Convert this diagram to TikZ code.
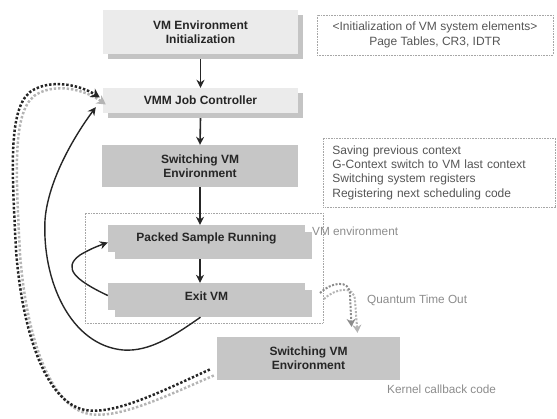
\documentclass[tikz,border=0pt]{standalone}
\usepackage{fontspec}
\setmainfont{Liberation Sans}
\usetikzlibrary{shadows,arrows.meta,calc}
\definecolor{lightbox}{HTML}{EBEBEB}
\definecolor{lightshadow}{HTML}{C4C4C4}
\definecolor{darkbox}{HTML}{C6C6C6}
\definecolor{notegray}{HTML}{555555}
\definecolor{lblgray}{HTML}{8C8C8C}
\definecolor{dotlight}{HTML}{B4B4B4}
\tikzset{
  boxtext/.style={font=\fontsize{12}{14}\selectfont\bfseries, text=black!85, align=center, inner sep=0pt},
  lightbox/.style={boxtext, fill=lightbox, draw=none, drop shadow={shadow xshift=5pt, shadow yshift=-5pt, fill=lightshadow, opacity=1}},
  darkbox/.style={boxtext, fill=darkbox, draw=none},
  stepbox/.style={boxtext, fill=darkbox, draw=none, drop shadow={shadow xshift=7pt, shadow yshift=-7pt, fill=darkbox, opacity=1}},
  notebox/.style={draw=gray!70, dash pattern=on 0.8pt off 0.8pt, line width=0.7pt, inner sep=0pt, font=\fontsize{12}{14.3}\selectfont, text=notegray},
  lbl/.style={font=\fontsize{11.8}{14}\selectfont, text=lblgray, anchor=west, inner sep=0pt},
  flow/.style={draw=black!85, line width=1.6pt, -{Stealth[length=8pt,width=8pt]}},
  dotdark/.style={draw=black!85, line width=2.5pt, dash pattern=on 2.4pt off 1.9pt, -{Stealth[length=9pt,width=10pt,fill=black!85]}},
  dotlight/.style={draw=dotlight, line width=2.5pt, dash pattern=on 2.4pt off 1.9pt, -{Stealth[length=9pt,width=10pt,fill=dotlight]}},
  qdark/.style={draw=gray!90, line width=2pt, dash pattern=on 2pt off 1.6pt, -{Stealth[length=8pt,width=9pt,fill=gray!90]}},
  qlight/.style={draw=dotlight, line width=2pt, dash pattern=on 2pt off 1.6pt, -{Stealth[length=8pt,width=9pt,fill=dotlight]}},
}
\begin{document}
\begin{tikzpicture}[x=1pt,y=-1pt]
\useasboundingbox (0,0) rectangle (557,418);
% boxes
\node[lightbox, minimum width=195pt, minimum height=44pt] (init) at (200.5,32) {VM Environment\\Initialization};
\node[lightbox, minimum width=195pt, minimum height=25pt] (vmm) at (200.5,100.5) {VMM Job Controller};
\node[darkbox, minimum width=196pt, minimum height=42pt] (sw1) at (200,166) {Switching VM\\Environment};
\node[notebox, minimum width=238pt, minimum height=110pt] (env) at (204,268) {};
\node[stepbox, minimum width=197pt, minimum height=27pt] (packed) at (206.5,238.5) {Packed Sample Running};
\node[stepbox, minimum width=197pt, minimum height=27pt] (exit) at (206.5,296.5) {Exit VM};
\node[darkbox, minimum width=183pt, minimum height=43pt] (sw2) at (308.5,358.5) {Switching VM\\Environment};
% notes
\node[notebox, minimum width=236pt, minimum height=40pt, align=center] (note1) at (435,35) {<Initialization of VM system elements>\\Page Tables, CR3, IDTR};
\node[notebox, minimum width=232pt, minimum height=69pt, align=left, anchor=west, inner xsep=9pt, text width=214pt] (note2) at (323,172.5) {Saving previous context\\G-Context switch to VM last context\\Switching system registers\\Registering next scheduling code};
% labels
\node[lbl] (envlbl) at (312,231) {VM environment};
\node[lbl] (qlbl) at (367,300) {Quantum Time Out};
\node[lbl] (klbl) at (387,389) {Kernel callback code};
% main flow
\draw[flow] ($(init.south)+(0,5)$) -- (vmm.north);
\draw[flow] ($(vmm.south)+(0,5)$) -- (sw1.north);
\draw[flow] (sw1.south) -- (sw1.south |- packed.north);
\draw[flow] ($(sw1.south |- packed.south)+(0,7)$) -- (sw1.south |- exit.north);
% small loop
\draw[flow, line width=1.4pt] ($(exit.west)+(0,-1)$) .. controls (75,280) and (62,268) .. (80,255) .. controls (90,249) and (98,246) .. ($(packed.west)+(0,4)$);
% long solid return
\draw[flow, line width=1.4pt] ($(exit.south)+(-6,7)$) .. controls (175,335) and (150,352) .. (123,350) .. controls (70,345) and (42,280) .. (45,220) .. controls (48,180) and (75,135) .. ($(vmm.south west)+(-7,-6)$);
% quantum time out
\coordinate (qs) at (320,293);
\draw[qlight] ($(qs)+(4,6)$) .. controls (334,289) and (355,284) .. (355,301) -- ($(sw2.north)+(49,-4)$);
\draw[qdark] (qs) .. controls (330,283) and (350,278) .. (350,295) -- ($(sw2.north)+(43,-10)$);
% big dotted return
\draw[dotlight] ($(sw2.west)+(-3,17)$) .. controls (164,397) and (119,419) .. (89,414) .. controls (49,406) and (26,334) .. (20,254) .. controls (16,174) and (12,114) .. (34,96) .. controls (54,82) and (84,89) .. ($(vmm.west)+(3,4)$);
\draw[dotdark] ($(sw2.west)+(-7,11)$) .. controls (160,392) and (115,415) .. (85,410) .. controls (45,402) and (22,330) .. (16,250) .. controls (12,170) and (8,110) .. (30,92) .. controls (50,78) and (80,85) .. ($(vmm.west)+(-3,-3)$);
\end{tikzpicture}
\end{document}
